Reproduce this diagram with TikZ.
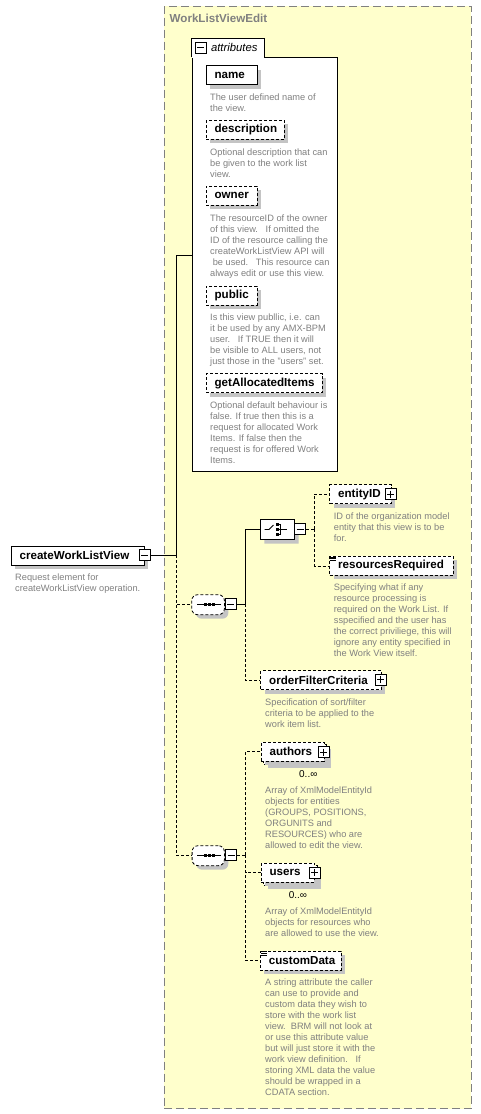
\documentclass[tikz,border=0pt]{standalone}
\usepackage{fontspec}
\setmainfont{Liberation Sans}
\usetikzlibrary{shadows,shapes.misc}
\definecolor{bgyellow}{RGB}{255,255,204}
\definecolor{grpgray}{RGB}{128,128,128}
\definecolor{descgray}{RGB}{128,128,128}
\definecolor{shadowgray}{RGB}{196,196,196}
\begin{document}
\begin{tikzpicture}[x=1pt,y=-1pt,
  grp/.style={draw=grpgray, line width=1.2pt, dash pattern=on 8pt off 4pt, fill=bgyellow, inner sep=0pt},
  grptitle/.style={font=\fontsize{11.6}{13}\selectfont\bfseries, text=grpgray, inner sep=0pt},
  attrbox/.style={draw=black, line width=0.8pt, fill=white, inner sep=0pt},
  attrlabel/.style={font=\fontsize{11.3}{13}\selectfont\itshape, inner sep=0pt},
  shd/.style={general shadow={fill=shadowgray, shadow xshift=4pt, shadow yshift=-4pt}},
  elbox/.style={draw=black, line width=0.8pt, fill=white, shd,
    font=\fontsize{11.6}{13}\selectfont\bfseries, minimum height=19pt,
    inner ysep=0pt, inner xsep=8.5pt, align=left, anchor=north west},
  opt/.style={dash pattern=on 3pt off 2pt},
  desc/.style={font=\fontsize{9.25}{11}\selectfont, text=descgray, align=left, anchor=north west, inner sep=0pt},
  occ/.style={font=\fontsize{10}{12}\selectfont, inner sep=0pt},
  pm/.style={draw=black, line width=1pt, fill=white, minimum size=11pt, inner sep=0pt},
  pmminus/.style={pm, path picture={\draw[line width=0.8pt] ([xshift=2pt]path picture bounding box.west) -- ([xshift=-2pt]path picture bounding box.east);}},
  pmplus/.style={pm, path picture={\draw[line width=0.8pt] ([xshift=2pt]path picture bounding box.west) -- ([xshift=-2pt]path picture bounding box.east) ([yshift=-2pt]path picture bounding box.north) -- ([yshift=2pt]path picture bounding box.south);}},
  seqshape/.style={draw=black, line width=0.8pt, fill=white, shd, rounded corners=6pt, minimum width=32.7pt, minimum height=20pt, inner sep=0pt, anchor=north west},
  choiceshape/.style={chamfered rectangle, chamfered rectangle xsep=5pt, chamfered rectangle ysep=5pt, draw=black, line width=0.8pt, fill=white, shd, minimum width=34.4pt, minimum height=20pt, inner sep=0pt, anchor=north west},
  conn/.style={line width=0.8pt},
  icon/.style={line width=0.8pt}
]
\useasboundingbox (0,0) rectangle (481,1114);

% group
\node[grp, anchor=north west, minimum width=307pt, minimum height=1102.5pt] (grp) at (163.5,5.5) {};
\node[grptitle, anchor=west] (grptitle) at (169.5,18) {WorkListViewEdit};

% attributes container
\node[attrbox, anchor=north west, minimum width=145.3pt, minimum height=413.7pt] (attr) at (191.7,57) {};
\fill[white] (192.2,38.4) rectangle (263.6,57.6);
\draw[line width=0.8pt] (191.7,57) -- (191.7,38) -- (264,38) -- (264,57);
\node[pmminus] (attrpm) at (200.8,47.5) {};
\node[attrlabel, anchor=west] (attrtxt) at (210.8,47.5) {attributes};
\coordinate (attrIn) at (191.7,255.7);

% attributes
\node[elbox, text width=34pt] (aname) at (205.7,65.3) {name};
\node[desc] (dname) at (210,93.6) {The user defined name of\\the view.};
\node[elbox, opt, text width=61.3pt] (adesc) at (205.7,120) {description};
\node[desc] (ddesc) at (210,148.5) {Optional description that can\\be given to the work list\\view.};
\node[elbox, opt, text width=34pt] (aowner) at (205.7,186) {owner};
\node[desc] (downer) at (210,214.5) {The resourceID of the owner\\of this view.\ \ \ If omitted the\\ID of the resource calling the\\createWorkListView API will\\\ be used.\ \ \ This resource can\\always edit or use this view.};
\node[elbox, opt, text width=34pt] (apublic) at (205.7,285.7) {public};
\node[desc] (dpublic) at (210,313.5) {Is this view publlic, i.e. can\\it be used by any AMX-BPM\\user.\ \ \ If TRUE then it will\\be visible to ALL users, not\\just those in the "users" set.};
\node[elbox, opt, text width=99.3pt] (aget) at (205.7,373.3) {getAllocatedItems};
\node[desc] (dget) at (210,401.5) {Optional default behaviour is\\false. If true then this is a\\request for allocated Work\\Items. If false then the\\request is for offered Work\\Items.};

% root element
\node[elbox, text width=116.3pt] (cwlv) at (10.7,545.7) {createWorkListView};
\node[pmminus] (cwlvpm) at (144.5,555.3) {};
\node[desc] (dcwlv) at (15,573.8) {Request element for\\createWorkListView operation.};
\coordinate (j0) at (176.7,555.3);

% sequence A
\node[seqshape, opt] (seqA) at (191.3,594.3) {};
\begin{scope}[shift={(seqA.center)}]
  \draw[icon] (-11,0) -- (13,0);
  \foreach \dx in {-2.5,1.5,5.5} \fill (\dx-1.5,-1.5) rectangle (\dx+1.5,1.5);
\end{scope}
\node[pmminus] (seqApm) at (230.5,604.3) {};
\coordinate (j1) at (245.3,604.3);

% choice
\node[choiceshape] (choice) at (260.3,519.3) {};
\begin{scope}[shift={(choice.center)}]
  \draw[icon] (-13,0) -- (-8.5,0) -- (-4,-4.5);
  \foreach \dy in {-5,0,5} \fill (-2,\dy-1.5) rectangle (1,\dy+1.5);
  \draw[icon] (1,-5) -- (3,-5) -- (3,5) -- (1,5) (1,0) -- (9,0);
\end{scope}
\node[pmminus] (choicepm) at (300,529.3) {};
\coordinate (j2) at (314.3,529.3);

% choice children
\node[elbox, opt, text width=44.4pt] (entity) at (329.3,484.3) {entityID};
\node[pmplus] (entitypm) at (390.5,494) {};
\node[desc] (dentity) at (333.7,512.5) {ID of the organization model\\entity that this view is to be\\for.};
\node[elbox, opt, text width=106.4pt] (resreq) at (329.3,556) {resourcesRequired};
\draw[line width=0.6pt] ([shift={(1,1)}]resreq.north west) -- ++(5.5,0) ([shift={(1,2.7)}]resreq.north west) -- ++(5.5,0) ([shift={(1,4.4)}]resreq.north west) -- ++(5.5,0);
\node[desc] (dresreq) at (333.7,583.5) {Specifying what if any\\resource processing is\\required on the Work List. If\\sspecified and the user has\\the correct priviliege, this will\\ignore any entity specified in\\the Work View itself.};

% orderFilterCriteria
\node[elbox, opt, text width=103.4pt] (ofc) at (260.3,670.3) {orderFilterCriteria};
\node[pmplus] (ofcpm) at (380.5,679.8) {};
\node[desc] (dofc) at (265,698.1) {Specification of sort/filter\\criteria to be applied to the\\work item list.};

% sequence B
\node[seqshape, opt, minimum width=32.3pt] (seqB) at (191.7,845.3) {};
\begin{scope}[shift={(seqB.center)}]
  \draw[icon] (-11,0) -- (13,0);
  \foreach \dx in {-2.5,1.5,5.5} \fill (\dx-1.5,-1.5) rectangle (\dx+1.5,1.5);
\end{scope}
\node[pmminus] (seqBpm) at (231.2,855.3) {};
\coordinate (j3) at (245.7,855.3);

% authors (multiple)
\draw[line width=0.8pt, opt, fill=white, shd] (263.7,744.7) rectangle (326.5,764);
\node[elbox, opt, general shadow={}, text width=45.8pt] (authors) at (260.7,741.7) {authors};
\node[pmplus] (authorspm) at (323.8,752) {};
\node[occ] (authorsocc) at (308.3,774.5) {0..∞};
\node[desc] (dauthors) at (265,786.8) {Array of XmlModelEntityId\\objects for entities\\(GROUPS, POSITIONS,\\ORGUNITS and\\RESOURCES) who are\\allowed to edit the view.};

% users (multiple)
\draw[line width=0.8pt, opt, fill=white, shd] (263.7,865.7) rectangle (317,885);
\node[elbox, opt, general shadow={}, text width=36.3pt] (users) at (260.7,862.7) {users};
\node[pmplus] (userspm) at (314.5,872.7) {};
\node[occ] (usersocc) at (298,895.5) {0..∞};
\node[desc] (dusers) at (265,907.5) {Array of XmlModelEntityId\\objects for resources who\\are allowed to use the view.};

% customData
\node[elbox, opt, text width=64pt] (custom) at (260,950.7) {customData};
\draw[line width=0.6pt] ([shift={(1,1)}]custom.north west) -- ++(5.5,0) ([shift={(1,2.7)}]custom.north west) -- ++(5.5,0) ([shift={(1,4.4)}]custom.north west) -- ++(5.5,0);
\node[desc] (dcustom) at (265,978.5) {A string attribute the caller\\can use to provide and\\custom data they wish to\\store with the work list\\view.\ \ BRM will not look at\\or use this attribute value\\but will just store it with the\\work view definition.\ \ \ If\\storing XML data the value\\should be wrapped in a\\CDATA section.};

% connectors
\draw[conn] (cwlvpm.east) -- (j0);
\draw[conn] (j0) |- (attrIn);
\draw[conn, opt] (j0) |- (seqA.west);
\draw[conn, opt] (j0) |- (seqB.west);
\draw[conn] (seqApm.east) -- (j1) |- (choice.west);
\draw[conn, opt] (j1) |- (ofc.west);
\draw[conn, opt] (choicepm.east) -- (j2);
\draw[conn, opt] (j2) |- (entity.west);
\draw[conn, opt] (j2) |- (resreq.west);
\draw[conn, opt] (seqBpm.east) -- (j3);
\draw[conn, opt] (j3) |- (authors.west);
\draw[conn, opt] (j3) |- (users.west);
\draw[conn, opt] (j3) |- (custom.west);
\end{tikzpicture}
\end{document}
